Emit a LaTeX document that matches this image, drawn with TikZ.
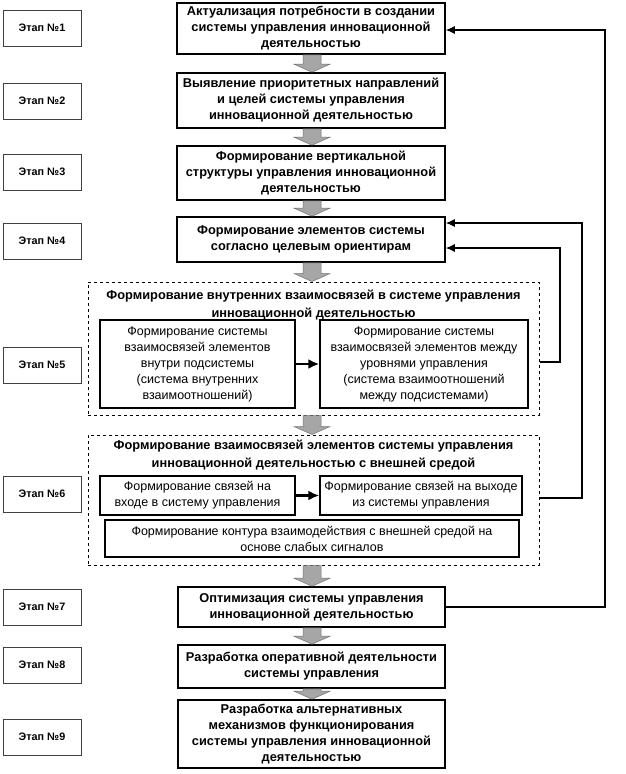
\documentclass[tikz,border=0pt]{standalone}
\usepackage{fontspec}
\setmainfont{Liberation Sans}
\usetikzlibrary{calc,arrows.meta}
\definecolor{arrowgray}{HTML}{A6A6A6}
\newcommand\blockarr[2]{%
  \path[fill=arrowgray, draw=black!55, line width=0.5pt]
    let \p1=(#1.south), \p2=(#2.north) in
    (303pt,\y1) -- (321pt,\y1) -- (321pt,{\y2+8pt}) -- (330pt,{\y2+8pt}) -- (312pt,\y2)
    -- (294pt,{\y2+8pt}) -- (303pt,{\y2+8pt}) -- cycle;}
\begin{document}
\begin{tikzpicture}[x=1pt,y=1pt,
  mainbox/.style={draw=black, line width=1.6pt, fill=white, align=center,
    font=\bfseries\fontsize{12.8}{16}\selectfont, inner sep=1pt},
  stagebox/.style={draw=black!75, line width=0.7pt, fill=white, minimum width=78pt,
    minimum height=36pt, font=\bfseries\fontsize{10.8}{12}\selectfont},
  subbox/.style={draw=black, line width=1.4pt, fill=white, align=center,
    font=\fontsize{12.5}{16}\selectfont, inner sep=1pt},
  groupbox/.style={draw=black, dashed, line width=1pt},
  grouptitle/.style={align=center, font=\bfseries\fontsize{12.8}{18}\selectfont},
  fb/.style={draw=black, line width=1.1pt, -{Latex[length=9pt,width=8pt]}},
  inarr/.style={draw=black, line width=2.2pt, -{Latex[length=11pt,width=10pt]}}]
\useasboundingbox (0,0) rectangle (625,-774);

% stage labels
\node[stagebox] (e1) at (42,-28) {Этап №1};
\node[stagebox] (e2) at (42,-101) {Этап №2};
\node[stagebox] (e3) at (42,-172) {Этап №3};
\node[stagebox] (e4) at (42,-241) {Этап №4};
\node[stagebox] (e5) at (42,-365) {Этап №5};
\node[stagebox] (e6) at (42,-494) {Этап №6};
\node[stagebox] (e7) at (42,-607) {Этап №7};
\node[stagebox] (e8) at (42,-665) {Этап №8};
\node[stagebox] (e9) at (42,-737) {Этап №9};

% main boxes
\node[mainbox, minimum width=268, minimum height=51] (b1) at (311,-28.5)
  {Актуализация потребности в создании\\системы управления инновационной\\деятельностью};
\node[mainbox, minimum width=268, minimum height=55] (b2) at (311,-100.5)
  {Выявление приоритетных направлений\\и целей системы управления\\инновационной деятельностью};
\node[mainbox, minimum width=268, minimum height=54] (b3) at (311,-173)
  {Формирование вертикальной\\структуры управления инновационной\\деятельностью};
\node[mainbox, minimum width=268, minimum height=45] (b4) at (311,-239.5)
  {Формирование элементов системы\\согласно целевым ориентирам};

% group 5
\node[groupbox, minimum width=451, minimum height=133] (g5) at (313.5,-348.5) {};
\node[grouptitle] (t5) at (313.5,-305)
  {Формирование внутренних взаимосвязей в системе управления\\инновационной деятельностью};
\node[subbox, minimum width=195, minimum height=88] (s5a) at (197.5,-364)
  {Формирование системы\\взаимосвязей элементов\\внутри подсистемы\\(система внутренних\\взаимоотношений)};
\node[subbox, minimum width=208, minimum height=88] (s5b) at (424,-364)
  {Формирование системы\\взаимосвязей элементов между\\уровнями управления\\(система взаимоотношений\\между подсистемами)};
\draw[inarr] (s5a.east) -- (s5b.west);

% group 6
\node[groupbox, minimum width=451, minimum height=130] (g6) at (313.5,-500) {};
\node[grouptitle] (t6) at (313.5,-455)
  {Формирование взаимосвязей элементов системы управления\\инновационной деятельностью с внешней средой};
\node[subbox, minimum width=195, minimum height=39] (s6a) at (197.5,-495.5)
  {Формирование связей на\\входе в систему управления};
\node[subbox, minimum width=202, minimum height=39] (s6b) at (421,-495.5)
  {Формирование связей на выходе\\из системы управления};
\node[subbox, minimum width=414, minimum height=37] (s6c) at (312,-538.5)
  {Формирование контура взаимодействия с внешней средой на\\основе слабых сигналов};
\draw[inarr] (s6a.east) -- (s6b.west);

% lower boxes
\node[mainbox, minimum width=267, minimum height=40] (b7) at (311.5,-607)
  {Оптимизация системы управления\\инновационной деятельностью};
\node[mainbox, minimum width=267, minimum height=43] (b8) at (311.5,-666.5)
  {Разработка оперативной деятельности\\системы управления};
\node[mainbox, minimum width=267, minimum height=68] (b9) at (311.5,-734)
  {Разработка альтернативных\\механизмов функционирования\\системы управления инновационной\\деятельностью};

% block arrows
\blockarr{b1}{b2}
\blockarr{b2}{b3}
\blockarr{b3}{b4}
\blockarr{b4}{g5}
\blockarr{g5}{g6}
\blockarr{g6}{b7}
\blockarr{b7}{b8}
\blockarr{b8}{b9}

% feedback lines
\coordinate (r1) at (605,0);
\coordinate (r2) at (582,0);
\coordinate (r3) at (560,0);
\coordinate (f1s) at ($(g6.east)+(0,2)$);
\coordinate (f2s) at ($(g5.east)+(0,-13.5)$);
\coordinate (f1e) at ($(b4.east)+(0,16.5)$);
\coordinate (f2e) at ($(b4.east)+(0,-8.5)$);
\coordinate (f3e) at ($(b1.east)+(0,-1.5)$);
\draw[fb] (b7.east) -- (b7.east -| r1) -- (f3e -| r1) -- (f3e);
\draw[fb] (f1s) -- (f1s -| r2) -- (f1e -| r2) -- (f1e);
\draw[fb] (f2s) -- (f2s -| r3) -- (f2e -| r3) -- (f2e);
\end{tikzpicture}
\end{document}
